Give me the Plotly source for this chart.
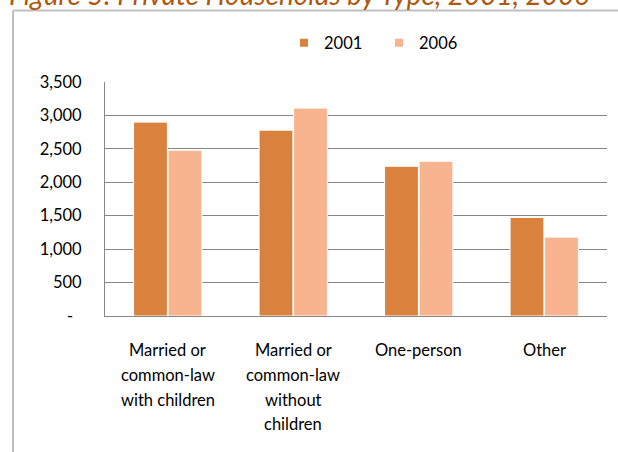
import plotly.graph_objects as go

# Household types and counts for the two census years
categories = ["Married or common-law with children",
              "Married or common-law without children",
              "One-person",
              "Other"]
label_lines = [["Married or", "common-law", "with children"],
               ["Married or", "common-law", "without", "children"],
               ["One-person"],
               ["Other"]]
years = ["2001", "2006"]
values_2001 = [2900, 2780, 2240, 1475]
values_2006 = [2480, 3110, 2315, 1180]
y_tickvals = [0, 500, 1000, 1500, 2000, 2500, 3000, 3500]
y_ticktext = ["-\u00a0\u00a0", "500", "1,000", "1,500", "2,000", "2,500", "3,000", "3,500"]
title_text = "Figure 5: Private Households by Type, 2001, 2006"

colors = {"2001": "#D9823D", "2006": "#F8B48E"}
FONT = "Lato, 'Open Sans', sans-serif"
FS = 16.5

W, H = 618, 452
L, R, T, B = 105, 11, 82, 136
plot_w = W - L - R
plot_h = H - T - B


def py(px):
    """pixel row -> paper y"""
    return (H - B - px) / plot_h


def px_x(px):
    """pixel column -> paper x"""
    return (px - L) / plot_w


fig = go.Figure()
for yr, vals in zip(years, [values_2001, values_2006]):
    fig.add_trace(go.Bar(
        x=categories, y=vals, name=yr,
        marker=dict(color=colors[yr], line=dict(color="white", width=1)),
        showlegend=False,
    ))
    # small square swatches for the legend
    fig.add_trace(go.Scatter(
        x=[None], y=[None], mode="markers", name=yr,
        marker=dict(symbol="square", size=8, color=colors[yr]),
        showlegend=True,
    ))

# multi-line category labels under the axis
line_rows = [350, 374.5, 399.5, 424]
for cat, lines in zip(categories, label_lines):
    for i, txt in enumerate(lines):
        fig.add_annotation(x=cat, xref="x", y=py(line_rows[i]), yref="paper",
                           text=txt, showarrow=False, xanchor="center", yanchor="middle",
                           font=dict(family=FONT, size=FS, color="#000000"))

# figure title, sitting above the frame
fig.add_annotation(x=px_x(7), xref="paper", y=py(13), yref="paper",
                   text=title_text, showarrow=False, xanchor="left", yanchor="bottom",
                   font=dict(family=FONT, size=28, color="#B0570E", style="italic"))

# outer chart frame (top and left edges fall inside the page)
frame = dict(color="#BFBFBF", width=2)
fig.add_shape(type="line", xref="paper", yref="paper",
              x0=px_x(13), x1=px_x(W + 5), y0=py(10.5), y1=py(10.5), line=frame, layer="below")
fig.add_shape(type="line", xref="paper", yref="paper",
              x0=px_x(13), x1=px_x(13), y0=py(10.5), y1=py(H + 5), line=frame, layer="below")

fig.update_layout(
    width=W, height=H,
    margin=dict(l=L, r=R, t=T, b=B, pad=0),
    paper_bgcolor="white", plot_bgcolor="white",
    barmode="group", bargap=0.45, bargroupgap=0.02,
    font=dict(family=FONT, size=FS, color="#000000"),
    legend=dict(orientation="h", x=px_x(284), xanchor="left",
                y=py(43), yanchor="middle", yref="paper",
                entrywidth=50, entrywidthmode="pixels",
                font=dict(family=FONT, size=FS, color="#000000"),
                bgcolor="rgba(0,0,0,0)", itemclick=False),
    xaxis=dict(showticklabels=False, showline=True, linecolor="#868686", linewidth=1,
               showgrid=False, ticks="", zeroline=False),
    yaxis=dict(range=[0, 3500], tickvals=y_tickvals, ticktext=y_ticktext,
               showline=True, linecolor="#868686", linewidth=1,
               showgrid=True, gridcolor="#868686", gridwidth=1,
               zeroline=False, ticks="", ticklabelstandoff=19,
               tickfont=dict(family=FONT, size=FS, color="#000000")),
)

fig.write_html("out.html")
